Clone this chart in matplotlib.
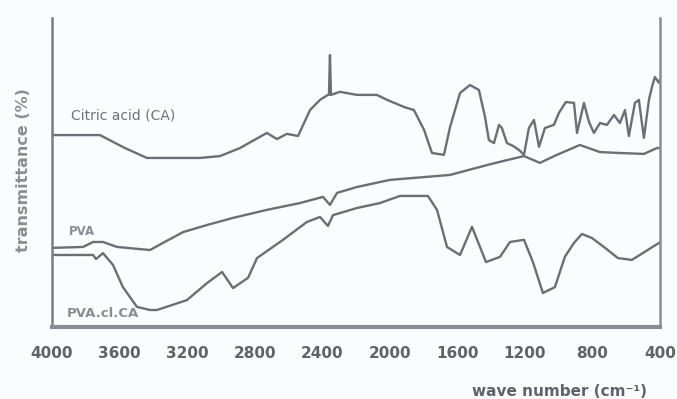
import numpy as np
import matplotlib
matplotlib.use('Agg')
import matplotlib.pyplot as plt

# FTIR spectra (wavenumber in cm-1, transmittance in arbitrary %)
ca_wn = [4000, 3716, 3568, 3438, 3124, 3005, 2887, 2727, 2668, 2609, 2543, 2472, 2413, 2366,
         2360, 2354, 2348, 2295, 2194, 2076, 2016, 1916, 1857, 1797, 1750, 1679, 1643, 1584,
         1525, 1472, 1436, 1413, 1383, 1353, 1336, 1306, 1270, 1235, 1205, 1176, 1146, 1116,
         1081, 1028, 998, 957, 909, 891, 850, 820, 791, 755, 714, 672, 637, 607, 584, 548,
         525, 495, 465, 447, 430, 406, 400]
ca_t = [62.1, 62.1, 57.9, 54.7, 54.7, 55.3, 57.9, 62.8, 60.8, 62.5, 61.8, 70.2, 73.5, 75.1,
        75.1, 88.0, 75.1, 76.1, 75.1, 75.1, 73.5, 71.2, 70.2, 63.8, 56.3, 55.7, 64.7, 75.7,
        78.3, 76.7, 68.0, 60.5, 59.5, 65.4, 64.4, 59.5, 58.6, 57.3, 55.7, 64.4, 67.0, 58.3,
        64.4, 65.4, 69.3, 72.8, 72.5, 62.8, 72.5, 66.3, 62.8, 66.0, 65.4, 68.6, 66.0, 70.2,
        61.8, 72.5, 73.5, 61.2, 73.5, 77.7, 80.9, 79.0, 80.0]

pva_wn = [4000, 3816, 3757, 3698, 3615, 3420, 3343, 3224, 3082, 2928, 2727, 2532, 2395, 2354,
          2312, 2194, 1999, 1643, 1424, 1306, 1205, 1111, 1010, 874, 755, 637, 495, 418, 400]
pva_t = [25.6, 25.9, 27.5, 27.5, 25.9, 24.9, 27.2, 30.7, 33.0, 35.3, 37.9, 40.1, 42.1, 39.5,
         43.4, 45.3, 47.6, 49.2, 52.4, 54.0, 55.3, 53.1, 55.7, 58.9, 56.6, 56.3, 56.0, 57.9, 57.9]

pvaca_wn = [4000, 3757, 3739, 3698, 3639, 3580, 3497, 3420, 3378, 3201, 3082, 2993, 2928, 2839,
            2786, 2632, 2490, 2413, 2366, 2336, 2194, 2058, 1940, 1774, 1720, 1661, 1584, 1513,
            1430, 1347, 1288, 1205, 1152, 1093, 1022, 963, 909, 862, 803, 732, 649, 566, 406, 400]
pvaca_t = [23.3, 23.3, 22.0, 23.9, 20.1, 12.9, 6.5, 5.5, 5.5, 8.7, 14.2, 17.8, 12.6, 15.9,
           22.3, 28.2, 34.0, 35.6, 32.7, 36.2, 38.5, 40.1, 42.4, 42.4, 37.9, 25.9, 23.3, 32.4,
           21.0, 22.7, 27.5, 28.2, 21.0, 11.0, 12.9, 22.7, 27.2, 30.1, 28.8, 25.9, 22.3, 21.7,
           27.2, 27.2]

x_ticks = [4000, 3600, 3200, 2800, 2400, 2000, 1600, 1200, 800, 400]

LINE = '#6b6e76'
TEXT = '#6e727c'
LIGHT = '#8a8d94'

fig = plt.figure(figsize=(6.77, 3.99), dpi=100)
fig.patch.set_facecolor('#fbfcfd')
ax = fig.add_axes([0.0768, 0.1805, 0.898, 0.7745])
ax.set_facecolor('#fbfcfd')

for wn, t in [(ca_wn, ca_t), (pva_wn, pva_t), (pvaca_wn, pvaca_t)]:
    ax.plot(wn, t, color=LINE, linewidth=1.7, solid_joinstyle='round')

ax.set_xlim(4000, 400)
ax.set_ylim(0, 100)
ax.set_xticks(x_ticks)
ax.set_xticklabels([str(v) for v in x_ticks], fontsize=11, fontweight='bold', color='#5f626a')
ax.tick_params(axis='x', length=0, pad=14)
ax.set_yticks([])

ax.spines['top'].set_visible(False)
ax.spines['left'].set_color('#7a7d85')
ax.spines['left'].set_linewidth(1.8)
ax.spines['right'].set_color(LIGHT)
ax.spines['right'].set_linewidth(1.8)
ax.spines['bottom'].set_color(LIGHT)
ax.spines['bottom'].set_linewidth(3.0)

ax.text(3890, 68.5, 'Citric acid (CA)', fontsize=10, color=TEXT, va='center', ha='left')
ax.text(3900, 31, 'PVA', fontsize=8.5, color=LIGHT, fontweight='bold', va='center', ha='left')
ax.text(3910, 4.5, 'PVA.cl.CA', fontsize=9.5, color=LIGHT, fontweight='bold', va='center', ha='left')

fig.text(0.034, 0.574, 'transmittance (%)', rotation=90, fontsize=11.5, fontweight='bold',
         color=LIGHT, ha='center', va='center')
fig.text(0.827, 0.0, 'wave number (cm\u207b\u00b9)', fontsize=11, fontweight='bold',
         color='#5f626a', ha='center', va='bottom')

fig.savefig('out.png', dpi=100, facecolor=fig.get_facecolor())
